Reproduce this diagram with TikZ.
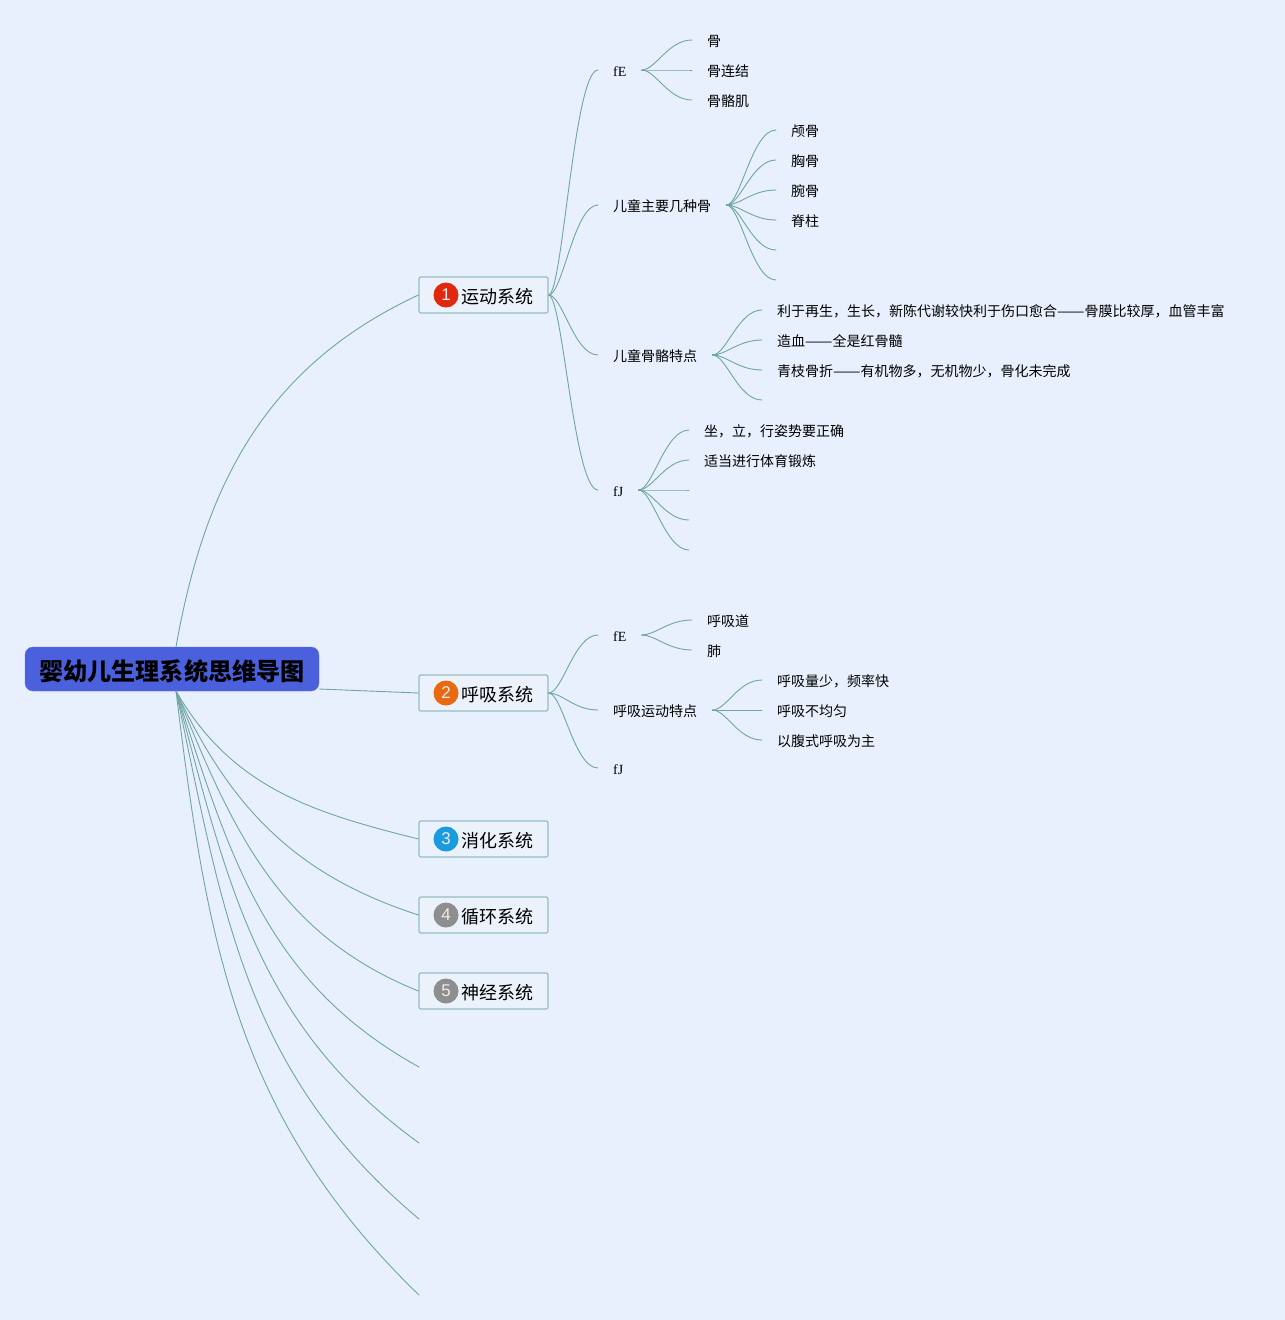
\documentclass[tikz,border=0pt]{standalone}
\usepackage{fontspec}
\setmainfont{Noto Sans CJK SC}
\newfontfamily\latinfont{Liberation Serif}
\newfontfamily\digitfont{Liberation Sans}
\newcommand\longdash{\scalebox{1.17}[1]{——}}
\definecolor{paper}{HTML}{E9F0FD}
\definecolor{rootblue}{HTML}{4A60DC}
\definecolor{branch}{HTML}{6FA5A2}
\definecolor{topicline}{HTML}{93BEC0}
\definecolor{topicfill}{HTML}{EBF2FB}
\tikzset{
  rootbox/.style={draw=rootblue!85!white, fill=rootblue, rounded corners=8pt, minimum width=294pt, minimum height=44pt, inner sep=0pt, text height=24pt, text depth=2pt, font=\fontsize{24.1}{28}\selectfont\bfseries},
  topicbox/.style={draw=topicline, fill=topicfill, line width=1.2pt, rounded corners=2pt, minimum height=36pt, text width=99pt, inner xsep=15pt, inner ysep=0pt, text height=17.5pt, text depth=1pt, font=\fontsize{18}{22}\selectfont},
  badge/.style={circle, minimum size=25pt, inner sep=0pt, text=white!85!gray, font=\digitfont\fontsize{17}{20}\selectfont},
  item/.style={anchor=west, inner xsep=15pt, inner ysep=0pt, text height=14pt, text depth=1pt, font=\fontsize{14}{17}\selectfont},
  sub/.style={out=0, in=180, out distance=14pt, in distance=24pt},
  link/.style={draw=branch, line width=0.9pt}
}
\begin{document}
\begin{tikzpicture}[x=1pt, y=-1pt, line join=round, line cap=round]
\fill[paper] (0,0) rectangle (1285,1320);
\useasboundingbox (0,0) rectangle (1285,1320);
\foreach \topicname/\y/\c/\n/\txt in {motor/295/E0280E/1/运动系统, breath/693/E8690F/2/呼吸系统, digest/839/1A9BE0/3/消化系统, circ/915/8E8E8E/4/循环系统, nerve/991/8E8E8E/5/神经系统}{
  \definecolor{badgecol}{HTML}{\c}
  \node[topicbox, align=right] (\topicname) at (483.5,\y) {\txt};
  \node[badge, fill=badgecol] (badge\n) at (446,\y) {\n};
}
\node[rootbox] (root) at (172,669) {婴幼儿生理系统思维导图};
\coordinate (rootfoot) at (176,691);
\coordinate (roothead) at (176,647);
\coordinate (end6) at (419,1067);
\coordinate (end7) at (419,1143);
\coordinate (end8) at (419,1219);
\coordinate (end9) at (419,1295);
\draw[link] (roothead) to[out=80, in=-155] (motor.west);
\draw[link] (root.east |- 0,689) -- (breath.west);
\foreach \target/\o/\i in {digest.west/-60/166, circ.west/-65/162, nerve.west/-68/158, end6/-72/151, end7/-75/144, end8/-78/140, end9/-83/136}
  \draw[link] (rootfoot) to[out=\o, in=\i] (\target);
%
\node[item] (a1) at (598,70) {\latinfont fE};
\node[item] (a2) at (598,205) {儿童主要几种骨};
\node[item] (a3) at (598,355) {儿童骨骼特点};
\node[item] (a4) at (598,490) {\latinfont fJ};
\foreach \n in {a1,a2,a3,a4}
  \draw[link] (motor.east) to[sub] (\n.west);
%
\foreach \n/\y/\txt in {a1x/40/骨, a1y/70/骨连结, a1z/100/骨骼肌}{
  \node[item] (\n) at (692,\y) {\txt};
  \draw[link] (a1.east) to[sub] (\n.west);
}
\foreach \n/\y/\txt in {a2p/130/颅骨, a2q/160/胸骨, a2r/190/腕骨, a2s/220/脊柱, a2t/250/{}, a2u/280/{}}{
  \node[item] (\n) at (776,\y) {\txt};
  \draw[link] (a2.east) to[sub] (\n.west);
}
\foreach \n/\y/\txt in {a3p/310/利于再生，生长，新陈代谢较快利于伤口愈合\longdash 骨膜比较厚，血管丰富, a3q/340/造血\longdash 全是红骨髓, a3r/370/青枝骨折\longdash 有机物多，无机物少，骨化未完成, a3s/400/{}}{
  \node[item] (\n) at (762,\y) {\txt};
  \draw[link] (a3.east) to[sub] (\n.west);
}
\foreach \n/\y/\txt in {a4p/430/坐，立，行姿势要正确, a4q/460/适当进行体育锻炼, a4r/490/{}, a4s/520/{}, a4t/550/{}}{
  \node[item] (\n) at (689,\y) {\txt};
  \draw[link] (a4.east) to[sub] (\n.west);
}
%
\node[item] (b1) at (598,635) {\latinfont fE};
\node[item] (b2) at (598,710) {呼吸运动特点};
\node[item] (b3) at (598,768) {\latinfont fJ};
\foreach \n in {b1,b2,b3}
  \draw[link] (breath.east) to[sub] (\n.west);
\foreach \n/\y/\txt in {b1p/620/呼吸道, b1q/650/肺}{
  \node[item] (\n) at (692,\y) {\txt};
  \draw[link] (b1.east) to[sub] (\n.west);
}
\foreach \n/\y/\txt in {b2p/680/呼吸量少，频率快, b2q/710/呼吸不均匀, b2r/740/以腹式呼吸为主}{
  \node[item] (\n) at (762,\y) {\txt};
  \draw[link] (b2.east) to[sub] (\n.west);
}
\end{tikzpicture}
\end{document}
